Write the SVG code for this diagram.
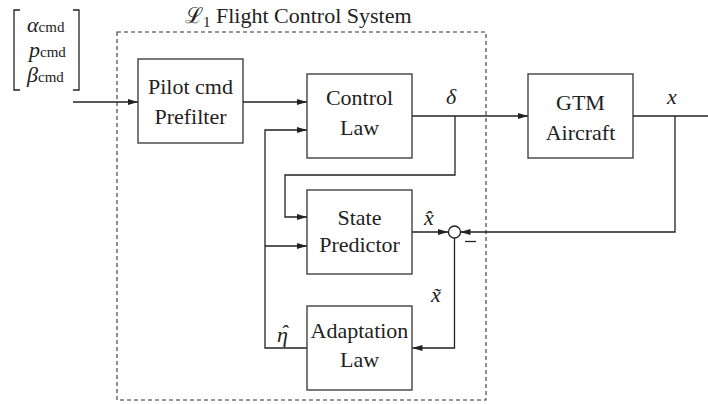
<svg xmlns="http://www.w3.org/2000/svg" width="708" height="404" viewBox="0 0 708 404">
<defs>
<marker id="ah" viewBox="0 0 10 6" refX="10" refY="3" markerWidth="10" markerHeight="6" markerUnits="userSpaceOnUse" orient="auto">
<path d="M0,0 L10,3 L0,6 Z" fill="#222"/>
</marker>
</defs>
<style>
.box{fill:#fff;stroke:#333;stroke-width:1.3}
.ln{fill:none;stroke:#222;stroke-width:1.3}
text{font-family:"Liberation Serif","Times New Roman","DejaVu Serif",serif;font-size:22px;fill:#222}
.c{text-anchor:middle}
.i{font-style:italic}
.s{font-size:15px;font-style:normal}
</style>
<rect width="708" height="404" fill="#fff"/>
<g id="system">
<rect x="117" y="32" width="369" height="368" fill="none" stroke="#333" stroke-width="1.1" stroke-dasharray="4,3"/>
<text x="185" y="23">ℒ<tspan class="s" dy="4">1</tspan><tspan dy="-4"> Flight Control System</tspan></text>
</g>
<g id="input">
<path class="ln" d="M20,10 H14 V90 H20 M73,10 H79 V90 H73"/>
<text class="i" x="27" y="32">α<tspan class="s">cmd</tspan></text>
<text class="i" x="29" y="57">p<tspan class="s">cmd</tspan></text>
<text class="i" x="27" y="82">β<tspan class="s">cmd</tspan></text>
</g>
<g id="connectors">
<path class="ln" d="M73,102 H138" marker-end="url(#ah)"/>
<path class="ln" d="M243,102 H307" marker-end="url(#ah)"/>
<path class="ln" d="M412,116 H528" marker-end="url(#ah)"/>
<path class="ln" d="M633,116 H708"/>
<path class="ln" d="M455,116 V175 H285 V217 H307" marker-end="url(#ah)"/>
<path class="ln" d="M412,232 H448" marker-end="url(#ah)"/>
<path class="ln" d="M675,116 V232 H460.5" marker-end="url(#ah)"/>
<path class="ln" d="M454.5,238 V348 H412.5" marker-end="url(#ah)"/>
<path class="ln" d="M307,348 H265 V130 H307" marker-end="url(#ah)"/>
<path class="ln" d="M265,246 H307" marker-end="url(#ah)"/>
<path class="ln" d="M465,241.5 H476"/>
</g>
<g id="prefilter">
<rect class="box" x="138" y="59" width="105" height="84"/>
<text class="c" x="190.5" y="94">Pilot cmd</text>
<text class="c" x="190.5" y="124">Prefilter</text>
</g>
<g id="control-law">
<rect class="box" x="307" y="74" width="105" height="84"/>
<text class="c" x="359.5" y="105">Control</text>
<text class="c" x="359.5" y="135">Law</text>
</g>
<g id="gtm">
<rect class="box" x="528" y="74" width="105" height="84"/>
<text class="c" x="580.5" y="110">GTM</text>
<text class="c" x="580.5" y="140">Aircraft</text>
</g>
<g id="state-predictor">
<rect class="box" x="307" y="190" width="105" height="84"/>
<text class="c" x="359.5" y="225">State</text>
<text class="c" x="359.5" y="252">Predictor</text>
</g>
<g id="adaptation-law">
<rect class="box" x="307" y="306" width="105" height="84"/>
<text class="c" x="359.5" y="338">Adaptation</text>
<text class="c" x="359.5" y="367">Law</text>
</g>
<g id="sum">
<circle cx="454.5" cy="232" r="6" fill="#fff" stroke="#222" stroke-width="1.3"/>
</g>
<g id="labels">
<text class="i" x="446" y="104">δ</text>
<text class="i" x="667" y="104">x</text>
<text class="i" x="424" y="225">x̂</text>
<text class="i" x="431" y="302">x̃</text>
<text class="i" x="277" y="342">η<tspan dx="-7.5" dy="-2">ˆ</tspan></text>
</g>
</svg>
